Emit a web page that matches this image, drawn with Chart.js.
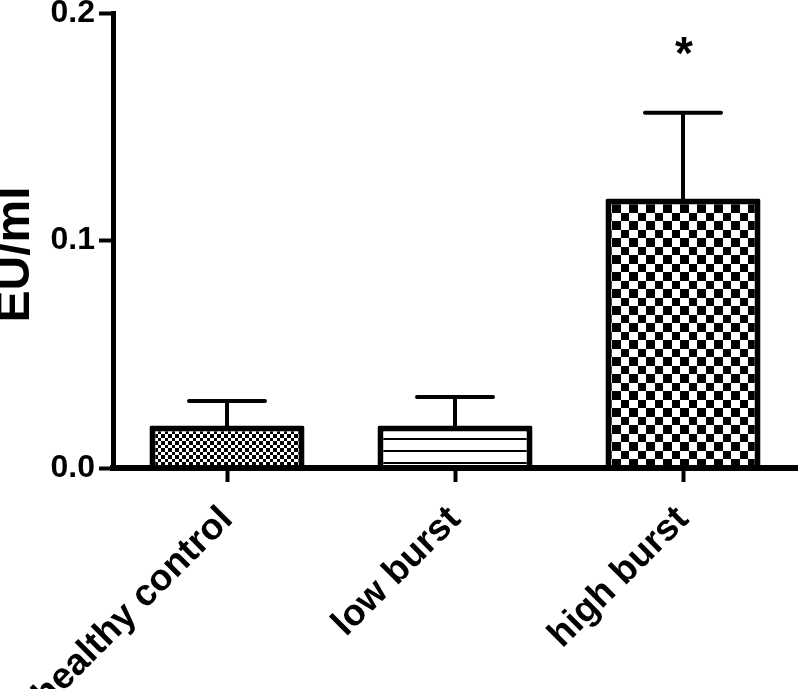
<!DOCTYPE html>
<html>
<head>
<meta charset="utf-8">
<script src="https://cdn.jsdelivr.net/npm/chart.js@4/dist/chart.umd.min.js"></script>
<style>
  html, body { margin: 0; padding: 0; background: #fff; }
  #wrap { width: 800px; height: 689px; position: relative; }
</style>
</head>
<body>
<div id="wrap"><canvas id="c" width="800" height="689"></canvas></div>
<script>
// ---- data ----
const categories = ['healthy control', 'low burst', 'high burst'];
const means = [0.0187, 0.0187, 0.1185];
const errorTops = [0.0295, 0.0312, 0.1562];
const yTicks = [0.0, 0.1, 0.2];
const significance = ['', '', '*'];
const yTitle = 'EU/ml';

const FONT = '"Liberation Sans", Arial, Helvetica, sans-serif';

// ---- patterns ----
function checker(a, b) {
  const n = a + b;
  const cv = document.createElement('canvas');
  cv.width = n; cv.height = n;
  const g = cv.getContext('2d');
  g.fillStyle = '#fff'; g.fillRect(0, 0, n, n);
  g.fillStyle = '#000';
  g.fillRect(0, 0, a, a);
  g.fillRect(a, a, b, b);
  return g.createPattern(cv, 'repeat');
}
function hlines(period, lineY, thick) {
  const cv = document.createElement('canvas');
  cv.width = 8; cv.height = period;
  const g = cv.getContext('2d');
  g.fillStyle = '#fff'; g.fillRect(0, 0, 8, period);
  g.fillStyle = '#000';
  g.fillRect(0, lineY, 8, thick);
  return g.createPattern(cv, 'repeat');
}
const fills = [checker(4, 3), hlines(12, 6, 2), checker(9, 8)];

// ---- plugins ----
const errorBars = {
  id: 'errorBars',
  afterDatasetsDraw(chart) {
    const ctx = chart.ctx, xs = chart.scales.x, ys = chart.scales.y;
    ctx.save();
    ctx.strokeStyle = '#000';
    ctx.lineWidth = 4;
    ctx.lineCap = 'round';
    means.forEach((m, i) => {
      const x = xs.getPixelForValue(i);
      const y0 = ys.getPixelForValue(m);
      const y1 = ys.getPixelForValue(errorTops[i]);
      ctx.beginPath();
      ctx.moveTo(x, y0 + 2);
      ctx.lineTo(x, y1);
      ctx.moveTo(x - 38, y1);
      ctx.lineTo(x + 38, y1);
      ctx.stroke();
      if (significance[i]) {
        ctx.fillStyle = '#000';
        ctx.font = 'bold 46px ' + FONT;
        ctx.textAlign = 'center';
        ctx.textBaseline = 'alphabetic';
        ctx.fillText(significance[i], x + 1, y1 - 44);
      }
    });
    ctx.restore();
  }
};
const yTitlePlugin = {
  id: 'yTitlePlugin',
  afterDraw(chart) {
    const ctx = chart.ctx, ys = chart.scales.y;
    ctx.save();
    ctx.translate(29, (ys.top + ys.bottom) / 2 + 14);
    ctx.rotate(-Math.PI / 2);
    ctx.fillStyle = '#000';
    ctx.font = 'bold 48px ' + FONT;
    ctx.textAlign = 'center';
    ctx.textBaseline = 'alphabetic';
    ctx.fillText(yTitle, 0, 0);
    ctx.restore();
  }
};

new Chart(document.getElementById('c'), {
  type: 'bar',
  data: {
    labels: categories,
    datasets: [{
      data: means,
      backgroundColor: fills,
      borderColor: '#000',
      borderWidth: 6,
      borderSkipped: 'bottom',
      borderRadius: 2,
      barPercentage: 0.68,
      categoryPercentage: 1.0
    }]
  },
  options: {
    responsive: false,
    animation: false,
    devicePixelRatio: 1,
    layout: { padding: { top: 13, right: 3, left: 0, bottom: 0 } },
    plugins: { legend: { display: false }, tooltip: { enabled: false } },
    scales: {
      x: {
        type: 'category',
        offset: true,
        grid: { display: true, offset: false, drawOnChartArea: false, drawTicks: true,
                tickLength: 14, tickWidth: 4, tickColor: '#000' },
        border: { display: true, color: '#000', width: 6, z: 1 },
        ticks: { autoSkip: false, maxRotation: 45, minRotation: 45, padding: 16,
                 color: '#000', font: { family: FONT, size: 37, weight: 'bold' } },
        afterFit(s) { s.height = 221; s.paddingLeft = 0; s.paddingRight = 0; }
      },
      y: {
        min: 0, max: 0.2,
        afterBuildTicks(s) { s.ticks = yTicks.map(v => ({ value: v })); },
        grid: { display: true, drawOnChartArea: false, drawTicks: true,
                tickLength: 14, tickWidth: 4, tickColor: '#000' },
        border: { display: true, color: '#000', width: 5, z: 1 },
        ticks: { padding: 4, color: '#000', callback: v => Number(v).toFixed(1),
                 font: { family: FONT, size: 32, weight: 'bold' } },
        afterFit(s) { s.width = 113; s.paddingTop = 0; s.paddingBottom = 0; }
      }
    }
  },
  plugins: [errorBars, yTitlePlugin]
});
</script>
</body>
</html>
